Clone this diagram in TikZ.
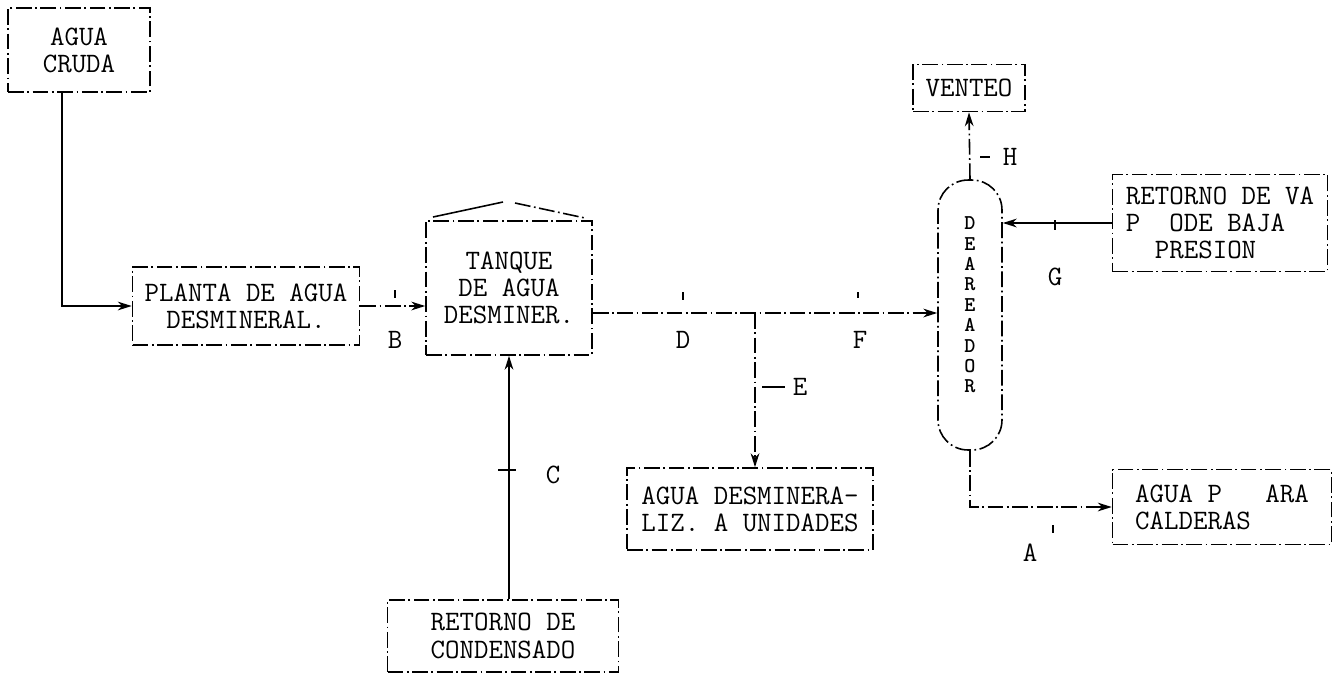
\documentclass[tikz,border=0pt]{standalone}
\usepackage{tikz}
\usetikzlibrary{arrows.meta, positioning, calc}

\begin{document}
\begin{tikzpicture}[
  x=0.02cm, y=-0.02cm,
  line width=0.9pt,
  every node/.style={font=\ttfamily\fontsize{16}{15.5}\selectfont},
  equipo/.style={draw, dash pattern=on 9pt off 2pt on 1pt off 2pt,
                 align=center, inner sep=2pt},
  vessel/.style={draw, dash pattern=on 9pt off 2pt on 1pt off 2pt,
                 rounded corners=0.6cm, minimum width=1.28cm, minimum height=5.4cm},
  flujo/.style={draw, -{Stealth[length=8pt, width=5pt]}},
  flujod/.style={flujo, dash pattern=on 9pt off 2pt on 1pt off 2pt},
  etiq/.style={inner sep=1pt},
  marca/.style={draw, line width=0.6pt},
]
  \useasboundingbox (0,0) rectangle (1338,674);

  \node[equipo, minimum width=2.84cm, minimum height=1.68cm] (cruda) at (79,50)
    {AGUA\\CRUDA};
  \node[equipo, minimum width=4.54cm, minimum height=1.56cm] (planta) at (246,306)
    {PLANTA DE AGUA\\DESMINERAL.};
  \node[equipo, minimum width=3.32cm, minimum height=2.68cm] (tanque) at (509,288)
    {TANQUE\\DE AGUA\\DESMINER.};
  \node[equipo, minimum width=4.92cm, minimum height=1.64cm] (desmin) at (750,509)
    {AGUA DESMINERA-\\LIZ. A UNIDADES};
  \node[equipo, minimum width=4.62cm, minimum height=1.44cm] (conden) at (503,636)
    {RETORNO DE\\CONDENSADO};
  \node[vessel] (dea) at (970,315) {};
  \node[align=center, font=\ttfamily\bfseries\fontsize{12}{11.6}\selectfont] (deatxt) at (970,305)
    {D\\E\\A\\R\\E\\A\\D\\O\\R};
  \node[equipo, minimum width=2.24cm, minimum height=0.94cm] (venteo) at (969,88)
    {VENTEO};
  \node[equipo, align=left, minimum width=4.3cm, minimum height=1.94cm] (vapor) at (1220,223)
    {RETORNO DE VA\\P\ \ ODE BAJA\\\ \ PRESION};
  \node[equipo, align=left, minimum width=4.38cm, minimum height=1.5cm] (calder) at (1222,507)
    {AGUA P\ \ \ ARA\\CALDERAS};

  \coordinate (k1) at (62,312);
  \coordinate (e) at (755,313);

  \draw[flujo] (cruda.south -| k1) |- (planta.west);
  \draw[flujod] (planta.east) -- (planta.east -| tanque.west);
  \draw[flujod] (tanque.east |- e) -- (e -| dea.west);
  \draw[flujod] (e) -- (desmin.north -| e);
  \draw[flujo] (tanque.south |- conden.north) -- (tanque.south);
  \draw[flujod] (dea.north) -- (venteo.south);
  \draw[flujo] (vapor.west) -- (vapor.west -| dea.east);
  \draw[flujod] (dea.south) |- (calder.west);

  % techo del tanque
  \draw (433,217) -- (503,202);
  \draw[dash pattern=on 9pt off 2pt on 1pt off 2pt] (515,203) -- (585,218);

  \node[etiq] (lb) at (395,340) {B};
  \node[etiq] (lc) at (553,475) {C};
  \node[etiq] (ld) at (683,340) {D};
  \node[etiq] (le) at (800,387) {E};
  \node[etiq] (lf) at (860,340) {F};
  \node[etiq] (lg) at (1055,277) {G};
  \node[etiq] (lh) at (1010,157) {H};
  \node[etiq] (la) at (1030,553) {A};

  \draw[marca] (395,290) -- (395,298);
  \draw[marca] (683,292) -- (683,300);
  \draw[marca] (858,292) -- (858,298);
  \draw[marca] (762,387) -- (785,387);
  \draw[marca] (498,470) -- (516,470);
  \draw[marca] (980,157) -- (990,157);
  \draw[marca] (1055,220) -- (1055,230);
  \draw[marca] (1053,525) -- (1053,533);
\end{tikzpicture}
\end{document}
